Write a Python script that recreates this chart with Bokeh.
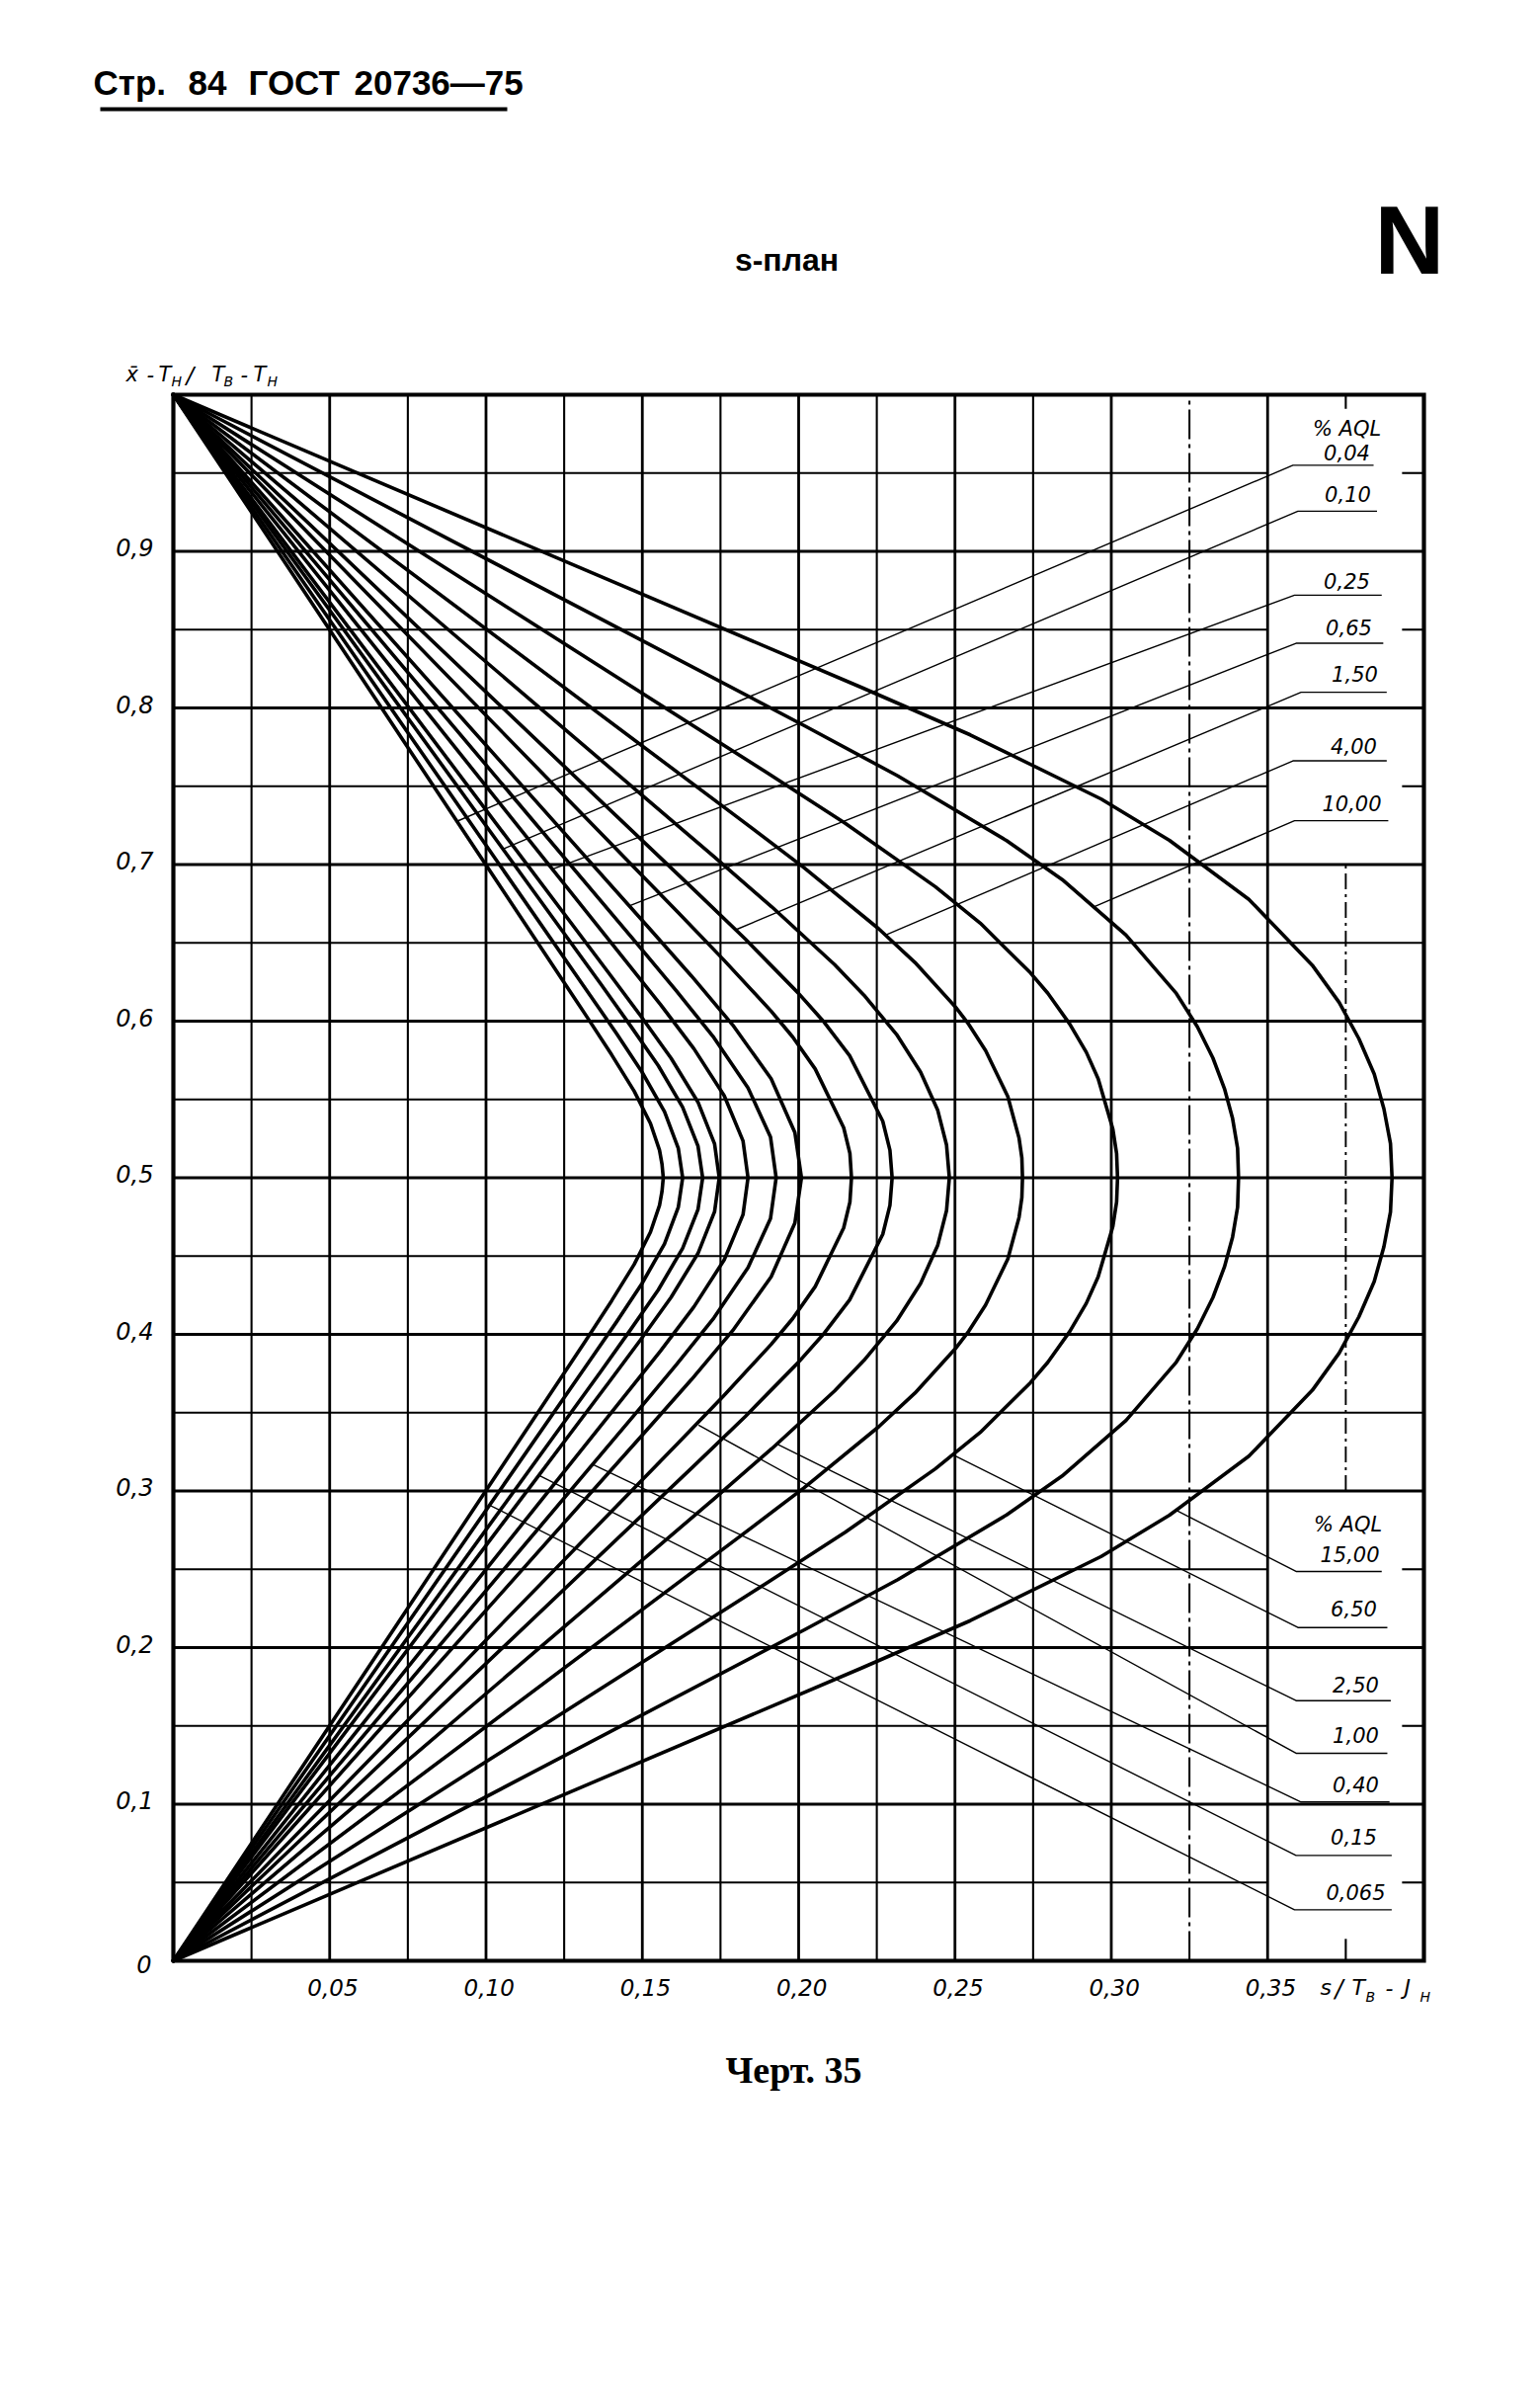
from bokeh.plotting import figure
from bokeh.models import Range1d
from bokeh.embed import file_html
from bokeh.resources import INLINE
from bokeh.core.properties import value

# ---------------- data ----------------
# curves: s/(TB-TH) (x) against (x-TH)/(TB-TH) (y), one per AQL value
s_004 = [0, 0.1317, 0.1402, 0.1474, 0.1526, 0.1555, 0.1563, 0.1567, 0.1563, 0.1555, 0.1526, 0.1474, 0.1402, 0.1317, 0]
y_004 = [0, 0.3955, 0.4215, 0.4447, 0.4653, 0.4824, 0.4914, 0.5, 0.5086, 0.5176, 0.5347, 0.5553, 0.5785, 0.6045, 1.0]

s_0065 = [0, 0.1330, 0.1417, 0.1499, 0.1571, 0.1615, 0.1629, 0.1615, 0.1571, 0.1499, 0.1417, 0.1330, 0]
y_0065 = [0, 0.3826, 0.4078, 0.4325, 0.4578, 0.4811, 0.5, 0.5189, 0.5422, 0.5675, 0.5922, 0.6174, 1.0]

s_010 = [0, 0.1368, 0.1461, 0.1551, 0.1629, 0.1678, 0.1693, 0.1678, 0.1629, 0.1551, 0.1461, 0.1368, 0]
y_010 = [0, 0.3765, 0.4026, 0.4284, 0.4550, 0.4797, 0.5, 0.5203, 0.5450, 0.5716, 0.5974, 0.6235, 1.0]

s_015 = [0, 0.1395, 0.1495, 0.1592, 0.1678, 0.1731, 0.1746, 0.1731, 0.1678, 0.1592, 0.1495, 0.1395, 0]
y_015 = [0, 0.3699, 0.3967, 0.4237, 0.4517, 0.4783, 0.5, 0.5217, 0.5483, 0.5763, 0.6033, 0.6301, 1.0]

s_025 = [0, 0.1447, 0.1558, 0.1665, 0.1762, 0.1822, 0.1838, 0.1822, 0.1762, 0.1665, 0.1558, 0.1447, 0]
y_025 = [0, 0.3616, 0.3893, 0.4176, 0.4476, 0.4764, 0.5, 0.5236, 0.5524, 0.5824, 0.6107, 0.6384, 1.0]

s_040 = [0, 0.1489, 0.1609, 0.1729, 0.1838, 0.1910, 0.1928, 0.1910, 0.1838, 0.1729, 0.1609, 0.1489, 0]
y_040 = [0, 0.3520, 0.3807, 0.4105, 0.4426, 0.4739, 0.5, 0.5261, 0.5574, 0.5895, 0.6193, 0.6480, 1.0]

s_065 = [0, 0.1525, 0.1657, 0.1789, 0.1912, 0.1988, 0.2009, 0.1988, 0.1912, 0.1789, 0.1657, 0.1525, 0]
y_065 = [0, 0.3413, 0.3711, 0.4024, 0.4368, 0.4711, 0.5, 0.5289, 0.5632, 0.5976, 0.6289, 0.6587, 1.0]

s_100 = [0, 0.1613, 0.1760, 0.1912, 0.1981, 0.2053, 0.2144, 0.2164, 0.2169, 0.2164, 0.2144, 0.2053, 0.1981, 0.1912, 0.1760, 0.1613, 0]
y_100 = [0, 0.3303, 0.3608, 0.3936, 0.4101, 0.4305, 0.4680, 0.4845, 0.5, 0.5155, 0.5320, 0.5695, 0.5899, 0.6064, 0.6392, 0.6697, 1.0]

s_150 = [0, 0.1665, 0.1829, 0.1999, 0.2078, 0.2163, 0.2269, 0.2292, 0.2299, 0.2292, 0.2269, 0.2163, 0.2078, 0.1999, 0.1829, 0.1665, 0]
y_150 = [0, 0.3160, 0.3475, 0.3821, 0.3998, 0.4220, 0.4639, 0.4824, 0.5, 0.5176, 0.5361, 0.5780, 0.6002, 0.6179, 0.6525, 0.6840, 1.0]

s_250 = [0, 0.1727, 0.1914, 0.2115, 0.2209, 0.2313, 0.2390, 0.2445, 0.2473, 0.2482, 0.2473, 0.2445, 0.2390, 0.2313, 0.2209, 0.2115, 0.1914, 0.1727, 0]
y_250 = [0, 0.2946, 0.3270, 0.3639, 0.3834, 0.4084, 0.4325, 0.4570, 0.4790, 0.5, 0.5210, 0.5430, 0.5675, 0.5916, 0.6166, 0.6361, 0.6730, 0.7054, 1.0]

s_400 = [0, 0.1799, 0.2017, 0.2256, 0.2372, 0.2501, 0.2544, 0.2598, 0.2669, 0.2705, 0.2714, 0.2716, 0.2714, 0.2705, 0.2669, 0.2598, 0.2544, 0.2501, 0.2372, 0.2256, 0.2017, 0.1799, 0]
y_400 = [0, 0.2690, 0.3020, 0.3410, 0.3625, 0.3908, 0.4020, 0.4188, 0.4481, 0.4747, 0.4874, 0.5, 0.5126, 0.5253, 0.5519, 0.5812, 0.5980, 0.6092, 0.6375, 0.6590, 0.6980, 0.7310, 1.0]

s_650 = [0, 0.1895, 0.2149, 0.2437, 0.2581, 0.2742, 0.2797, 0.2867, 0.2920, 0.2958, 0.3005, 0.3017, 0.3020, 0.3017, 0.3005, 0.2958, 0.2920, 0.2867, 0.2797, 0.2742, 0.2581, 0.2437, 0.2149, 0.1895, 0]
y_650 = [0, 0.2409, 0.2736, 0.3141, 0.3374, 0.3693, 0.3822, 0.4018, 0.4198, 0.4367, 0.4689, 0.4845, 0.5, 0.5155, 0.5311, 0.5633, 0.5802, 0.5982, 0.6178, 0.6307, 0.6626, 0.6859, 0.7264, 0.7591, 1.0]

s_1000 = [0, 0.2020, 0.2317, 0.2665, 0.2843, 0.3047, 0.3208, 0.3275, 0.3325, 0.3362, 0.3388, 0.3404, 0.3407, 0.3404, 0.3388, 0.3362, 0.3325, 0.3275, 0.3208, 0.3047, 0.2843, 0.2665, 0.2317, 0.2020, 0]
y_1000 = [0, 0.2115, 0.2434, 0.2847, 0.3096, 0.3450, 0.3823, 0.4035, 0.4235, 0.4431, 0.4622, 0.4812, 0.5, 0.5188, 0.5378, 0.5569, 0.5765, 0.5965, 0.6177, 0.6550, 0.6904, 0.7153, 0.7566, 0.7885, 1.0]

s_1500 = [0, 0.2201, 0.2549, 0.2968, 0.3186, 0.3440, 0.3643, 0.3729, 0.3792, 0.3841, 0.3872, 0.3893, 0.3898, 0.3893, 0.3872, 0.3841, 0.3792, 0.3729, 0.3643, 0.3440, 0.3186, 0.2968, 0.2549, 0.2201, 0]
y_1500 = [0, 0.1869, 0.2172, 0.2582, 0.2845, 0.3222, 0.3643, 0.3881, 0.4112, 0.4337, 0.4560, 0.4782, 0.5, 0.5218, 0.5440, 0.5663, 0.5888, 0.6119, 0.6357, 0.6778, 0.7155, 0.7418, 0.7828, 0.8131, 1.0]

# AQL labels (upper block points to upper halves, lower block to lower halves)
aql_upper = ["0,04", "0,10", "0,25", "0,65", "1,50", "4,00", "10,00"]
aql_lower = ["15,00", "6,50", "2,50", "1,00", "0,40", "0,15", "0,065"]

x_ticks = [0.05, 0.10, 0.15, 0.20, 0.25, 0.30, 0.35]
x_tick_labels = ["0,05", "0,10", "0,15", "0,20", "0,25", "0,30", "0,35"]
y_ticks = [0.1, 0.2, 0.3, 0.4, 0.5, 0.6, 0.7, 0.8, 0.9]
y_tick_labels = ["0,1", "0,2", "0,3", "0,4", "0,5", "0,6", "0,7", "0,8", "0,9"]

# ---------------- layout (annotation geometry) ----------------
up_end = [(0.0907, 0.7276), (0.1054, 0.7098), (0.1213, 0.6971), (0.1458, 0.6736),
          (0.1797, 0.6582), (0.2278, 0.6550), (0.2944, 0.6730)]
up_elbow_x = [0.3581, 0.3597, 0.3586, 0.3591, 0.3607, 0.3581, 0.3586]
up_line_y = [0.955, 0.9256, 0.8720, 0.8413, 0.8100, 0.7662, 0.7280]
up_right_x = [0.3839, 0.3850, 0.3865, 0.3870, 0.3881, 0.3881, 0.3886]
up_text_px = [1363, 1364, 1363, 1365, 1371, 1370, 1368]      # page px, text centres
up_text_py = [457, 499, 587, 634, 681, 754, 812]

lo_end = [(0.3205, 0.2880), (0.2495, 0.3230), (0.1930, 0.3300), (0.1680, 0.3420),
          (0.1343, 0.3168), (0.1169, 0.3100), (0.1011, 0.2910)]
lo_elbow_x = [0.3591, 0.3597, 0.3591, 0.3591, 0.3607, 0.3591, 0.3586]
lo_line_y = [0.2486, 0.2128, 0.1661, 0.1325, 0.1014, 0.0673, 0.0326]
lo_right_x = [0.3865, 0.3883, 0.3894, 0.3883, 0.3890, 0.3897, 0.3897]
lo_text_px = [1366, 1370, 1372, 1372, 1372, 1370, 1372]
lo_text_py = [1572, 1627, 1704, 1755, 1805, 1858, 1914]

W, H = 1555, 2424
PX_X = 3165.0   # page px per x unit
PX_Y = 1585.0   # page px per y unit

def px2x(px):
    return (px - 175) / PX_X

def py2y(py):
    return 1 - (py - 399) / PX_Y

p = figure(width=W, height=H,
           x_range=Range1d(px2x(0), px2x(W)), y_range=Range1d(py2y(H), py2y(0)),
           x_axis_type=None, y_axis_type=None, min_border=0,
           output_backend="svg", toolbar_location=None, title=None)
p.background_fill_color = "white"
p.border_fill_color = "white"
p.outline_line_color = None

# ---- grid ----
DASHDOT = "30 5 4 5"
for i in range(1, 16):
    gx = 0.025 * i
    major = (i % 2 == 0)
    w = 2.8 if major else 2.1
    if i == 15:
        p.segment(x0=[gx], y0=[0.3], x1=[gx], y1=[0.7], line_color="black", line_width=1.9, line_dash="16 5 3 5")
        p.segment(x0=[gx, gx], y0=[0.0, 0.991], x1=[gx, gx], y1=[0.014, 1.0], line_color="black", line_width=2.1)
    elif i == 13:
        p.segment(x0=[gx], y0=[0], x1=[gx], y1=[1], line_color="black", line_width=2.0, line_dash=DASHDOT)
    else:
        p.segment(x0=[gx], y0=[0], x1=[gx], y1=[1], line_color="black", line_width=w)

for j in range(1, 20):
    gy = round(0.05 * j, 4)
    major = (j % 2 == 0)
    if major:
        p.segment(x0=[0], y0=[gy], x1=[0.4], y1=[gy], line_color="black", line_width=2.8)
    elif gy > 0.7 or gy < 0.3:
        p.segment(x0=[0, 0.393], y0=[gy, gy], x1=[0.35, 0.4], y1=[gy, gy], line_color="black", line_width=2.1)
    else:
        p.segment(x0=[0], y0=[gy], x1=[0.4], y1=[gy], line_color="black", line_width=2.1)

# frame border
p.line([0, 0.4, 0.4, 0, 0], [0, 0, 1, 1, 0], line_color="black", line_width=4.2, line_join="miter")

# ---- curves ----
curves = [(s_004, y_004), (s_0065, y_0065), (s_010, y_010), (s_015, y_015), (s_025, y_025),
          (s_040, y_040), (s_065, y_065), (s_100, y_100), (s_150, y_150), (s_250, y_250),
          (s_400, y_400), (s_650, y_650), (s_1000, y_1000), (s_1500, y_1500)]
for sx, sy in curves:
    p.line(sx, sy, line_color="black", line_width=3.6, line_join="round", line_cap="round")

# ---- leaders ----
for (ex, ey), bx, ly, rx in zip(up_end, up_elbow_x, up_line_y, up_right_x):
    p.line([ex, bx, rx], [ey, ly, ly], line_color="black", line_width=1.4)
for (ex, ey), bx, ly, rx in zip(lo_end, lo_elbow_x, lo_line_y, lo_right_x):
    p.line([ex, bx, rx], [ey, ly, ly], line_color="black", line_width=1.4)

# ---- texts (all placed by their visual middle) ----
SANS = value("DejaVu Sans")

def txt(pxs, pys, texts, size, font=SANS, style="italic", align="left"):
    p.text(x=[px2x(v) for v in pxs], y=[py2y(v) for v in pys], text=texts,
           text_font=font, text_font_style=style, text_font_size=f"{size}px",
           text_align=align, text_baseline="middle", text_color="black")

txt(up_text_px, up_text_py, aql_upper, 21, align="center")
txt(lo_text_px, lo_text_py, aql_lower, 21, align="center")
txt([1363, 1364], [433, 1542], ["% AQL", "% AQL"], 21, align="center")

# tick labels (positions from the tick values through the same scale)
p.text(x=[t + 0.001 for t in x_ticks], y=[py2y(2011)] * len(x_ticks), text=x_tick_labels,
       text_font=SANS, text_font_style="italic", text_font_size="23px",
       text_align="center", text_baseline="middle", text_color="black")
p.text(x=[px2x(155)] * len(y_ticks), y=[t + 0.0025 for t in y_ticks], text=y_tick_labels,
       text_font=SANS, text_font_style="italic", text_font_size="24px",
       text_align="right", text_baseline="middle", text_color="black")
txt([153], [1987], ["0"], 24, align="right")

# header, title, caption
BOLD = value("Liberation Sans")
txt([94, 190, 251, 358], [83] * 4, ["Стр.", "84", "ГОСТ", "20736—75"], 35, font=BOLD, style="bold")
p.segment(x0=[px2x(101)], y0=[py2y(110)], x1=[px2x(513)], y1=[py2y(110)],
          line_color="black", line_width=4)
txt([1391], [242], ["N"], 98, font=BOLD, style="bold")
txt([796], [262], ["s-план"], 32, font=BOLD, style="bold", align="center")
txt([803], [2094], ["Черт. 35"], 38, font=value("Liberation Serif"), style="bold", align="center")

# y-axis title: x̄-T_Н / T_В -T_Н
txt([127, 148, 160, 214, 243, 256], [378] * 6, ["x\u0304", "-", "T", "T", "-", "T"], 21)
txt([188], [379], ["/"], 23)
txt([173, 226, 270], [385] * 3, ["Н", "В", "Н"], 14)

# x-axis title: s/T_В -J_Н
txt([1336, 1368, 1402, 1421], [2011] * 4, ["s", "T", "-", "J"], 22)
txt([1351], [2012], ["/"], 24)
txt([1382, 1437], [2020] * 2, ["В", "Н"], 14)

open("out.html", "w").write(file_html(p, INLINE))
